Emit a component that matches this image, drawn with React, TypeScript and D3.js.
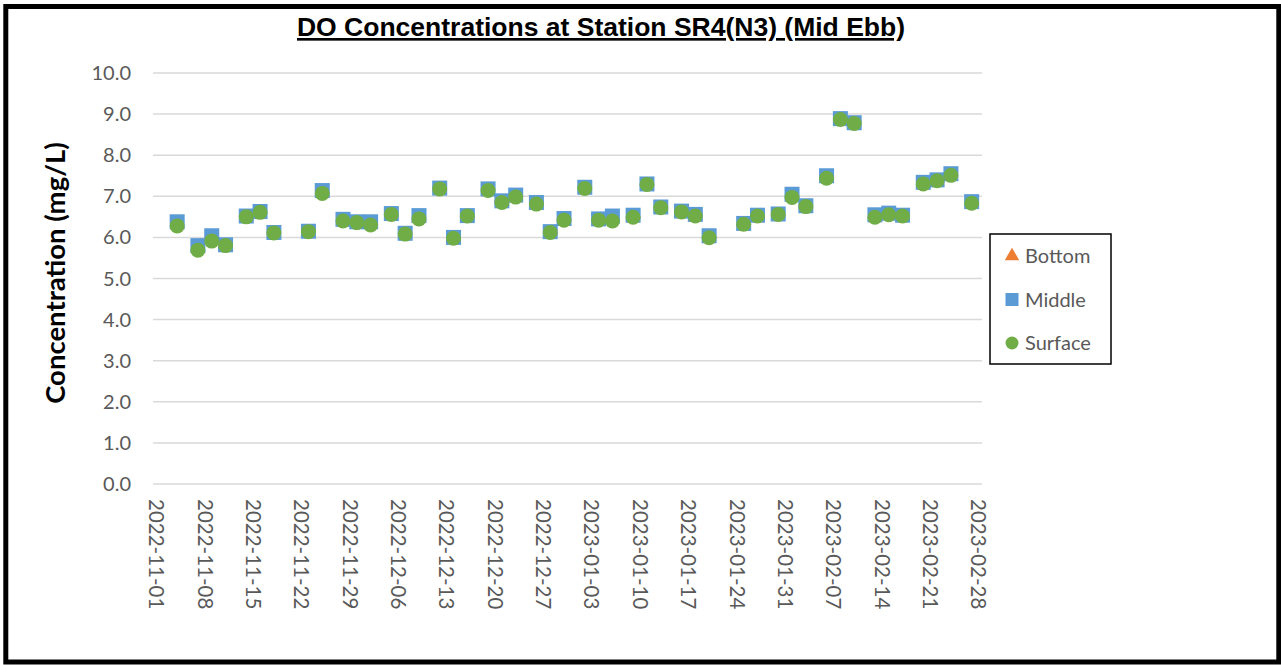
import * as d3 from "d3";
import { useEffect, useRef } from "react";

const sampleDates = [
	"2022-11-04", "2022-11-07", "2022-11-09", "2022-11-11", "2022-11-14", "2022-11-16",
	"2022-11-18", "2022-11-23", "2022-11-25", "2022-11-28", "2022-11-30", "2022-12-02",
	"2022-12-05", "2022-12-07", "2022-12-09", "2022-12-12", "2022-12-14", "2022-12-16",
	"2022-12-19", "2022-12-21", "2022-12-23", "2022-12-26", "2022-12-28", "2022-12-30",
	"2023-01-02", "2023-01-04", "2023-01-06", "2023-01-09", "2023-01-11", "2023-01-13",
	"2023-01-16", "2023-01-18", "2023-01-20", "2023-01-25", "2023-01-27", "2023-01-30",
	"2023-02-01", "2023-02-03", "2023-02-06", "2023-02-08", "2023-02-10", "2023-02-13",
	"2023-02-15", "2023-02-17", "2023-02-20", "2023-02-22", "2023-02-24", "2023-02-27",
];
const bottomValues: number[] = [];
const middleValues = [
	6.38, 5.8, 6.04, 5.82, 6.52, 6.63, 6.12, 6.15, 7.14, 6.44, 6.38, 6.38,
	6.58, 6.1, 6.53, 7.2, 6.0, 6.53, 7.18, 6.89, 7.03, 6.85, 6.14, 6.46,
	7.22, 6.45, 6.52, 6.54, 7.3, 6.74, 6.64, 6.56, 6.04, 6.34, 6.54, 6.57,
	7.05, 6.77, 7.5, 8.89, 8.79, 6.55, 6.59, 6.54, 7.34, 7.4, 7.55, 6.87,
];
const surfaceValues = [
	6.28, 5.69, 5.91, 5.8, 6.5, 6.61, 6.11, 6.14, 7.07, 6.4, 6.36, 6.3,
	6.56, 6.08, 6.45, 7.18, 5.98, 6.52, 7.14, 6.85, 6.98, 6.81, 6.12, 6.42,
	7.19, 6.42, 6.4, 6.49, 7.29, 6.72, 6.62, 6.52, 5.99, 6.32, 6.52, 6.56,
	6.97, 6.75, 7.44, 8.87, 8.77, 6.49, 6.55, 6.52, 7.3, 7.38, 7.51, 6.83,
];
const tickDates = [
	"2022-11-01", "2022-11-08", "2022-11-15", "2022-11-22", "2022-11-29", "2022-12-06",
	"2022-12-13", "2022-12-20", "2022-12-27", "2023-01-03", "2023-01-10", "2023-01-17",
	"2023-01-24", "2023-01-31", "2023-02-07", "2023-02-14", "2023-02-21", "2023-02-28",
];
const yTicks = [0, 1, 2, 3, 4, 5, 6, 7, 8, 9, 10];

const colors = { Bottom: "#ED7D31", Middle: "#5B9BD5", Surface: "#70AD47" };
const tickFont = "Lato, 'Noto Sans', sans-serif";

function App() {
	const ref = useRef<SVGSVGElement>(null);

	useEffect(() => {
		document.body.style.margin = "0";
		const svg = d3.select(ref.current);
		svg.selectAll("*").remove();

		const parse = d3.utcParse("%Y-%m-%d");
		const x = d3
			.scaleUtc()
			.domain([new Date(Date.UTC(2022, 9, 31, 12)), new Date(Date.UTC(2023, 1, 28, 12))])
			.range([153, 982]);
		const y = d3.scaleLinear().domain([0, 10]).range([484, 73]);

		// outer frame
		svg.append("rect")
			.attr("x", 5.8)
			.attr("y", 6.5)
			.attr("width", 1273)
			.attr("height", 655.5)
			.attr("fill", "white")
			.attr("stroke", "black")
			.attr("stroke-width", 5);

		// title
		svg.append("text")
			.attr("x", 601)
			.attr("y", 36)
			.attr("text-anchor", "middle")
			.style("font-family", "'Liberation Sans', Arial, sans-serif")
			.style("font-weight", "bold")
			.style("font-size", "26.5px")
			.style("text-decoration", "underline")
			.text("DO Concentrations at Station SR4(N3) (Mid Ebb)");

		// gridlines
		svg.append("g")
			.selectAll("line")
			.data(yTicks)
			.enter()
			.append("line")
			.attr("x1", x.range()[0])
			.attr("x2", x.range()[1])
			.attr("y1", (d) => y(d))
			.attr("y2", (d) => y(d))
			.attr("stroke", "#D9D9D9")
			.attr("stroke-width", 1.5);

		// y tick labels
		svg.append("g")
			.selectAll("text")
			.data(yTicks)
			.enter()
			.append("text")
			.attr("x", 131)
			.attr("y", (d) => y(d))
			.attr("dy", "0.35em")
			.attr("text-anchor", "end")
			.style("font-family", tickFont)
			.style("font-size", "20px")
			.style("fill", "#595959")
			.text((d) => d.toFixed(1));

		// x tick labels
		svg.append("g")
			.selectAll("text")
			.data(tickDates)
			.enter()
			.append("text")
			.attr("transform", (d) => "translate(" + x(parse(d)!) + ",499) rotate(90)")
			.attr("dy", "0.35em")
			.style("font-family", tickFont)
			.style("font-size", "20.5px")
			.style("fill", "#595959")
			.text((d) => d);

		// y axis title
		svg.append("text")
			.attr("transform", "translate(65,273) rotate(-90)")
			.attr("text-anchor", "middle")
			.style("font-family", tickFont)
			.style("font-weight", "bold")
			.style("font-size", "27.5px")
			.style("fill", "black")
			.text("Concentration (mg/L)");

		const plot = svg.append("g");
		const tri = d3.symbol().type(d3.symbolTriangle).size(130);

		plot.selectAll(".bottom")
			.data(bottomValues)
			.enter()
			.append("path")
			.attr("d", tri)
			.attr("transform", (d, i) => "translate(" + x(parse(sampleDates[i])!) + "," + y(d) + ")")
			.attr("fill", colors.Bottom);

		plot.selectAll(".middle")
			.data(middleValues)
			.enter()
			.append("rect")
			.attr("x", (_, i) => x(parse(sampleDates[i])!) - 7.5)
			.attr("y", (d) => y(d) - 7.5)
			.attr("width", 15)
			.attr("height", 15)
			.attr("fill", colors.Middle);

		plot.selectAll(".surface")
			.data(surfaceValues)
			.enter()
			.append("circle")
			.attr("cx", (_, i) => x(parse(sampleDates[i])!))
			.attr("cy", (d) => y(d))
			.attr("r", 7.5)
			.attr("fill", colors.Surface);

		// legend
		const legend = svg.append("g");
		legend.append("rect")
			.attr("x", 990)
			.attr("y", 234)
			.attr("width", 121)
			.attr("height", 130)
			.attr("fill", "white")
			.attr("stroke", "black")
			.attr("stroke-width", 1.5);
		const items = ["Bottom", "Middle", "Surface"] as const;
		items.forEach((name, i) => {
			const cy = 256 + i * 43.5;
			const g = legend.append("g").attr("transform", "translate(1012," + cy + ")");
			if (name === "Bottom") {
				g.append("path").attr("d", d3.symbol().type(d3.symbolTriangle).size(90)()).attr("fill", colors.Bottom);
			} else if (name === "Middle") {
				g.append("rect").attr("x", -6.5).attr("y", -6.5).attr("width", 13).attr("height", 13).attr("fill", colors.Middle);
			} else {
				g.append("circle").attr("r", 6.5).attr("fill", colors.Surface);
			}
			g.append("text")
				.attr("x", 13)
				.attr("dy", "0.35em")
				.style("font-family", tickFont)
				.style("font-size", "20px")
				.style("fill", "#595959")
				.text(name);
		});
	}, []);

	return <svg ref={ref} width={1281} height={665} style={{ display: "block" }}></svg>;
}

export default App;
